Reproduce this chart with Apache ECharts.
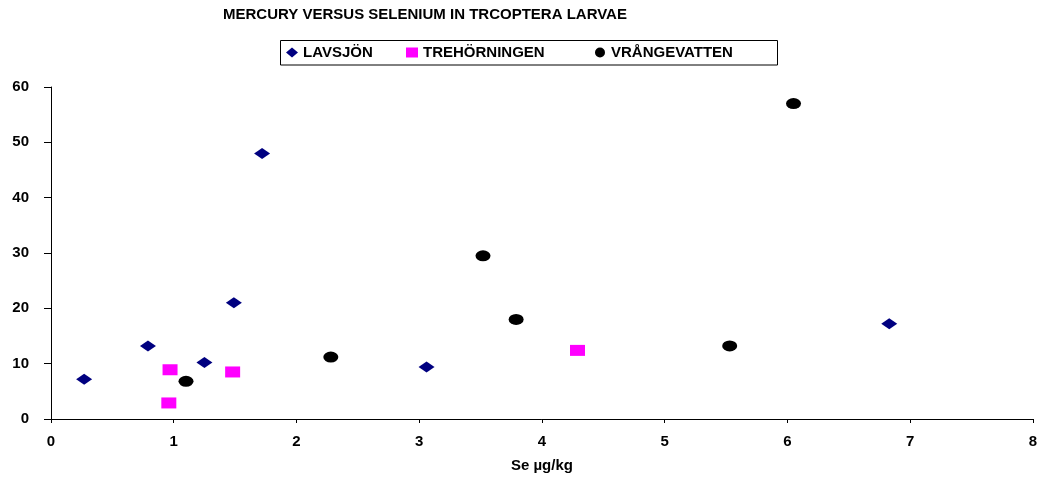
<!DOCTYPE html>
<html><head><meta charset="utf-8">
<script src="https://cdn.jsdelivr.net/npm/echarts@6/dist/echarts.min.js"></script>
<style>html,body{margin:0;padding:0;background:#fff}#c{width:1040px;height:480px}</style>
</head><body><div id="c"></div>
<script>
const title = "MERCURY VERSUS SELENIUM IN TRCOPTERA LARVAE";
const xTitle = "Se µg/kg";
const seriesNames = ["LAVSJÖN", "TREHÖRNINGEN", "VRÅNGEVATTEN"];
const lavsjonSe = [0.27, 0.79, 1.25, 1.49, 1.72, 3.06, 6.83];
const lavsjonHg = [7.2, 13.2, 10.2, 21.0, 48.0, 9.4, 17.2];
const trehorningenSe = [0.97, 0.96, 1.48, 4.29];
const trehorningenHg = [8.9, 2.9, 8.5, 12.4];
const vrangevattenSe = [1.10, 2.28, 3.52, 3.79, 5.53, 6.05];
const vrangevattenHg = [6.8, 11.2, 29.5, 18.0, 13.2, 57.0];

const pair = (xs, ys) => xs.map((x, i) => [x, ys[i]]);
const font = '"Liberation Sans", Arial, sans-serif';
const txt = {fontFamily: font, fontSize: 15, fontWeight: 'bold', color: '#000'};
const legendLefts = [286, 406, 595];
const chart = echarts.init(document.getElementById('c'), null, {renderer: 'canvas'});
chart.setOption({
  animation: false,
  backgroundColor: '#fff',
  title: {text: title, left: 223, top: 7, padding: 0, textStyle: txt},
  legend: seriesNames.map((n, i) => ({
    left: legendLefts[i], top: 45, padding: 0,
    itemWidth: 12, itemHeight: 10,
    textStyle: txt, data: [n]
  })),
  graphic: [{
    type: 'rect', silent: true, z: 0,
    shape: {x: 280.5, y: 40.5, width: 497, height: 24.5},
    style: {fill: 'none', stroke: '#000', lineWidth: 1}
  }],
  grid: {left: 51, right: 6, top: 87, bottom: 61, containLabel: false},
  xAxis: {
    type: 'value', min: 0, max: 8, interval: 1,
    name: xTitle, nameLocation: 'middle', nameGap: 39,
    nameTextStyle: txt,
    axisLine: {show: true, lineStyle: {color: '#000', width: 1}},
    axisTick: {show: true, length: 4, lineStyle: {color: '#000'}},
    axisLabel: Object.assign({margin: 15}, txt),
    splitLine: {show: false}
  },
  yAxis: {
    type: 'value', min: 0, max: 60, interval: 10,
    axisLine: {show: true, lineStyle: {color: '#000', width: 1}},
    axisTick: {show: true, length: 7, lineStyle: {color: '#000'}},
    axisLabel: Object.assign({margin: 22}, txt),
    splitLine: {show: false}
  },
  series: [
    {name: seriesNames[0], type: 'scatter', symbol: 'diamond', symbolSize: [16, 11],
     itemStyle: {color: '#000080', opacity: 1}, data: pair(lavsjonSe, lavsjonHg)},
    {name: seriesNames[1], type: 'scatter', symbol: 'rect', symbolSize: [15, 11],
     itemStyle: {color: '#FF00FF', opacity: 1}, data: pair(trehorningenSe, trehorningenHg)},
    {name: seriesNames[2], type: 'scatter', symbol: 'circle', symbolSize: [15, 11],
     itemStyle: {color: '#000000', opacity: 1}, data: pair(vrangevattenSe, vrangevattenHg)}
  ]
});
</script></body></html>
